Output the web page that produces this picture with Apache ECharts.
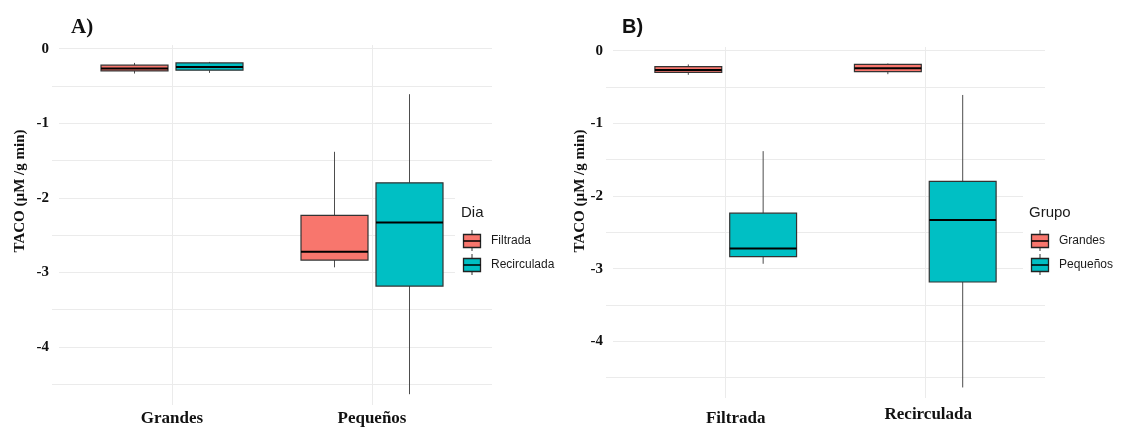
<!DOCTYPE html>
<html>
<head>
<meta charset="utf-8">
<script src="https://cdn.jsdelivr.net/npm/echarts@6/dist/echarts.min.js"></script>
<style>
  html, body { margin: 0; padding: 0; background: #fff; }
  #chart { width: 1125px; height: 427px; }
</style>
</head>
<body>
<div id="chart"></div>
<script>
// ---- Data (box statistics: [min, Q1, median, Q3, max]) ----
const grupos = ['Grandes', 'Pequeños'];
const dias = ['Filtrada', 'Recirculada'];
const grandesFiltrada     = [-0.333, -0.298, -0.265, -0.221, -0.190];
const grandesRecirculada  = [-0.324, -0.288, -0.244, -0.190, -0.177];
const pequenosFiltrada    = [-2.933, -2.835, -2.724, -2.236, -1.383];
const pequenosRecirculada = [-4.635, -3.184, -2.330, -1.799, -0.610];
const yTickLabels = ['0', '-1', '-2', '-3', '-4'];
const yTitle = 'TACO (µM /g min)';

const colRed = '#F8766D';
const colTeal = '#00BFC4';
const gridCol = '#ebebeb';
const BOX_W = 0.335;
const DODGE = 0.1875;

function renderBox(offset, color) {
  return function (params, api) {
    const x = api.value(0) + offset;
    const mn = api.value(1), q1 = api.value(2), md = api.value(3), q3 = api.value(4), mx = api.value(5);
    const half = api.size([BOX_W, 0])[0] / 2;
    const pMax = api.coord([x, mx]), pQ3 = api.coord([x, q3]), pMd = api.coord([x, md]);
    const pQ1 = api.coord([x, q1]), pMn = api.coord([x, mn]);
    return {
      type: 'group',
      children: [
        { type: 'line', shape: { x1: pMax[0], y1: pMax[1], x2: pQ3[0], y2: pQ3[1] }, style: { stroke: '#4d4d4d', lineWidth: 1 } },
        { type: 'line', shape: { x1: pQ1[0], y1: pQ1[1], x2: pMn[0], y2: pMn[1] }, style: { stroke: '#4d4d4d', lineWidth: 1 } },
        { type: 'rect', shape: { x: pQ3[0] - half, y: pQ3[1], width: 2 * half, height: pQ1[1] - pQ3[1] }, style: { fill: color, stroke: '#333', lineWidth: 1.2 } },
        { type: 'line', shape: { x1: pMd[0] - half, y1: pMd[1], x2: pMd[0] + half, y2: pMd[1] }, style: { stroke: '#000', lineWidth: 2 } }
      ]
    };
  };
}

function row(i, stats) { return [i + 1].concat(stats); }

const splitColorsY = ['rgba(0,0,0,0)'].concat(new Array(10).fill(gridCol)).concat(['rgba(0,0,0,0)']);
const splitColorsX = ['rgba(0,0,0,0)', gridCol, gridCol, 'rgba(0,0,0,0)'];

function yAxisDef(gridIndex) {
  return {
    type: 'value', gridIndex: gridIndex, min: -4.78, max: 0.05, splitNumber: 10,
    axisLine: { show: false }, axisTick: { show: false },
    splitLine: { show: true, lineStyle: { color: splitColorsY, width: 1 } },
    axisLabel: {
      margin: -7,
      fontFamily: 'Liberation Serif', fontWeight: 'bold', fontSize: 15, color: '#111',
      rich: {
        b: { fontFamily: 'Liberation Serif', fontWeight: 'bold', fontSize: 15, color: '#111',
             backgroundColor: '#fff', padding: [2, 10, 2, 2] }
      },
      formatter: function (v) {
        const r = Math.round(v);
        if (Math.abs(v - r) > 1e-6) return '';
        const idx = -r;
        return (idx >= 0 && idx < yTickLabels.length) ? '{b|' + yTickLabels[idx] + '}' : '';
      }
    }
  };
}

function xAxisDef(gridIndex, cats, margin, pads) {
  const rich = {};
  cats.forEach(function (c, i) {
    rich['c' + i] = { fontFamily: 'Liberation Serif', fontWeight: 'bold', fontSize: 17, color: '#111', padding: pads[i] };
  });
  return {
    type: 'value', gridIndex: gridIndex, min: 0.4, max: 2.6, splitNumber: 2,
    axisLine: { show: false }, axisTick: { show: false },
    splitLine: { show: true, lineStyle: { color: splitColorsX, width: 1 } },
    axisLabel: {
      margin: margin, fontFamily: 'Liberation Serif', fontWeight: 'bold', fontSize: 17, color: '#111',
      rich: rich,
      formatter: function (v) {
        const r = Math.round(v);
        if (Math.abs(v - r) > 1e-6) return '';
        return (r >= 1 && r <= cats.length) ? '{c' + (r - 1) + '|' + cats[r - 1] + '}' : '';
      }
    }
  };
}

function legendGraphic(x0, title, names, colors) {
  const els = [];
  els.push({ type: 'rect', left: x0 - 6, top: 178, shape: { width: 110, height: 106 }, style: { fill: '#fff' }, z: 50 });
  els.push({ type: 'text', left: x0, top: 205, style: { text: title, font: '15px "Liberation Sans"', fill: '#1a1a1a' }, z: 51 });
  names.forEach(function (n, i) {
    const ky = 234 + i * 24;
    els.push({ type: 'line', shape: { x1: x0 + 11, y1: ky - 4, x2: x0 + 11, y2: ky + 17 }, style: { stroke: '#333', lineWidth: 1 }, z: 51 });
    els.push({ type: 'rect', shape: { x: x0 + 2.5, y: ky + 0.5, width: 17, height: 13 }, style: { fill: colors[i], stroke: '#222', lineWidth: 1.3 }, z: 52 });
    els.push({ type: 'line', shape: { x1: x0 + 2.5, y1: ky + 7, x2: x0 + 19.5, y2: ky + 7 }, style: { stroke: '#000', lineWidth: 1.5 }, z: 53 });
    els.push({ type: 'text', left: x0 + 30, top: ky + 1, style: { text: n, font: '12px "Liberation Sans"', fill: '#1a1a1a' }, z: 51 });
  });
  return els;
}

const chart = echarts.init(document.getElementById('chart'), null, { renderer: 'canvas' });
const option = {
  backgroundColor: '#fff',
  animation: false,
  title: [
    { text: 'A)', left: 66, top: 12, textStyle: { fontFamily: 'Liberation Serif', fontWeight: 'bold', fontSize: 21, color: '#111' } },
    { text: 'B)', left: 617, top: 12, textStyle: { fontFamily: 'Liberation Sans', fontWeight: 'bold', fontSize: 20, color: '#111' } }
  ],
  grid: [
    { left: 52, top: 45, width: 440, height: 360 },
    { left: 606, top: 47, width: 439, height: 353 }
  ],
  xAxis: [
    xAxisDef(0, grupos, 5, [[0, 0, 0, 0], [0, 0, 0, 0]]),
    xAxisDef(1, dias, 8, [[4, 0, 0, 20], [0, 0, 0, 6]])
  ],
  yAxis: [yAxisDef(0), yAxisDef(1)],
  series: [
    { type: 'custom', name: dias[0], xAxisIndex: 0, yAxisIndex: 0, renderItem: renderBox(-DODGE, colRed),
      encode: { x: 0, y: [1, 2, 3, 4, 5] }, data: [row(0, grandesFiltrada), row(1, pequenosFiltrada)] },
    { type: 'custom', name: dias[1], xAxisIndex: 0, yAxisIndex: 0, renderItem: renderBox(DODGE, colTeal),
      encode: { x: 0, y: [1, 2, 3, 4, 5] }, data: [row(0, grandesRecirculada), row(1, pequenosRecirculada)] },
    { type: 'custom', name: grupos[0], xAxisIndex: 1, yAxisIndex: 1, renderItem: renderBox(-DODGE, colRed),
      encode: { x: 0, y: [1, 2, 3, 4, 5] }, data: [row(0, grandesFiltrada), row(1, grandesRecirculada)] },
    { type: 'custom', name: grupos[1], xAxisIndex: 1, yAxisIndex: 1, renderItem: renderBox(DODGE, colTeal),
      encode: { x: 0, y: [1, 2, 3, 4, 5] }, data: [row(0, pequenosFiltrada), row(1, pequenosRecirculada)] }
  ],
  graphic: [
    { type: 'text', x: 20, y: 191, rotation: Math.PI / 2, style: { text: yTitle, font: 'bold 15px "Liberation Serif"', fill: '#111', align: 'center', verticalAlign: 'middle' } },
    { type: 'text', x: 580, y: 191, rotation: Math.PI / 2, style: { text: yTitle, font: 'bold 15px "Liberation Serif"', fill: '#111', align: 'center', verticalAlign: 'middle' } }
  ].concat(legendGraphic(461, 'Dia', dias, [colRed, colTeal]))
   .concat(legendGraphic(1029, 'Grupo', grupos, [colRed, colTeal]))
};
chart.setOption(option);
</script>
</body>
</html>
